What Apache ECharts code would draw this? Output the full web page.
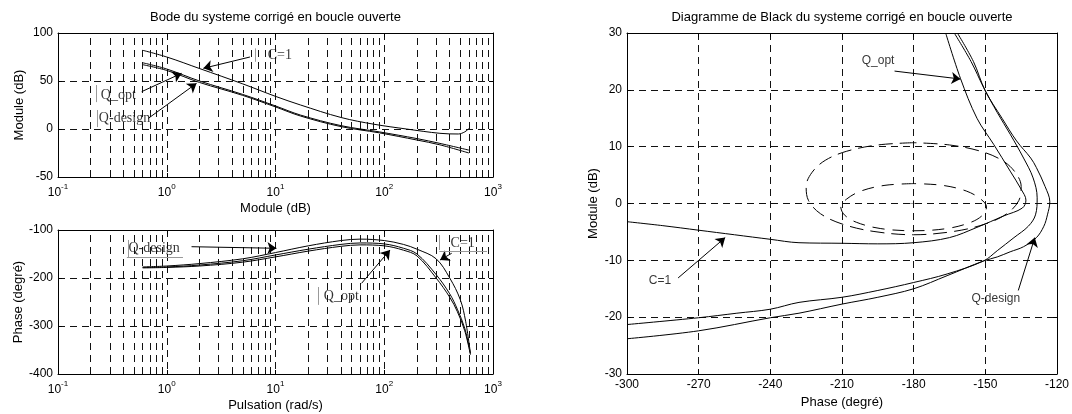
<!DOCTYPE html>
<html><head><meta charset="utf-8">
<script src="https://cdn.jsdelivr.net/npm/echarts@6/dist/echarts.min.js"></script>
<style>html,body{margin:0;padding:0;background:#fff}#c{width:1072px;height:414px}</style>
</head><body><div id="c"></div><script>
// ---------- DATA ----------
// Bode magnitude [rad/s, dB]
const magC1      = [[0.6,82],[1,75],[2,63],[5,47],[10,34],[17,25],[40,12],[80,5],[160,0],[325,-4.5],[480,-5.2],[550,-3],[600,0.5]];
const magQopt    = [[0.6,69],[1,62.5],[2,50],[5,36],[10,24],[17,14.5],[40,3.5],[90,-3],[200,-10],[325,-15],[600,-22]];
const magQdesign = [[0.6,67],[1,61],[2,48.5],[5,35],[10,23],[17,13.5],[40,2.5],[90,-4],[200,-11.5],[325,-16.5],[600,-25]];
// Bode phase [rad/s, deg]
const phaseC1      = [[0.6,-177],[1,-175],[2,-170],[5,-160],[10,-147],[20,-133],[40,-122],[60,-119],[100,-122],[150,-130],[200,-140],[300,-160],[400,-200],[500,-245],[560,-290],[620,-357]];
const phaseQopt    = [[0.6,-178],[1,-177],[2,-173],[5,-164],[10,-152],[20,-140],[40,-130],[60,-127],[100,-129],[150,-138],[200,-150],[300,-193],[400,-233],[470,-265],[550,-305],[620,-357]];
const phaseQdesign = [[0.6,-179],[1,-178],[2,-175],[5,-167],[10,-156],[20,-144],[40,-134],[60,-131],[100,-133],[150,-142],[200,-154],[300,-200],[400,-240],[470,-270],[550,-310],[620,-360]];
// Black diagram [phase deg, dB]
const blackC1 = [[-166.6,30],[-160.4,22],[-153.5,15],[-146.5,10.4],[-139.6,5.7],[-135,2.5],[-133,0.6],[-134.5,-0.8],[-142.4,-2.2],[-153.5,-4.2],[-165,-6],[-180,-6.9],[-195,-7.1],[-210,-7],[-228,-6.9],[-240,-6.3],[-255,-5.5],[-270,-4.7],[-285,-3.9],[-300,-3.2]];
const blackQopt = [[-163,30],[-156,25],[-150.7,20.4],[-145,16],[-139.6,12.2],[-134,8],[-130,4.5],[-128.3,1],[-129,-2],[-132,-4],[-138,-6],[-145,-8.3],[-150.7,-10.1],[-166,-12.4],[-180,-13.9],[-195,-15.3],[-210,-16.5],[-228,-17.4],[-240,-18.6],[-254,-19.3],[-270,-20.1],[-300,-21.3]];
const blackQdesign = [[-161.7,30],[-155,25],[-150,19.8],[-143,15],[-136.9,11],[-131,8],[-128.6,6.3],[-125,3],[-123,0.3],[-124,-2],[-125.5,-4],[-128.6,-6],[-134,-7.6],[-139.6,-8.5],[-145,-9.4],[-150.7,-10.1],[-166,-12.7],[-180,-15],[-195,-16.5],[-210,-17.7],[-228,-19.3],[-240,-20.1],[-270,-22.4],[-300,-23.8]];
// Nichols contours around the critical point
const contourOuter = [[-180,10.7],[-195,10.3],[-208,9.2],[-217,7.6],[-222.5,5.5],[-225,3],[-224,0.5],[-219,-1.8],[-210,-3.6],[-197,-4.9],[-180,-5.5],[-163,-4.9],[-150,-3.6],[-141,-1.8],[-136,0.5],[-135,3],[-137.5,5.5],[-143,7.6],[-152,9.2],[-165,10.3],[-180,10.7]];
const contourInner = [[-180,3.5],[-192,3.2],[-202,2.2],[-208,0.8],[-210.5,-0.6],[-209,-2],[-204,-3.3],[-194,-4.4],[-180,-4.8],[-166,-4.4],[-156,-3.3],[-151,-2],[-149.5,-0.6],[-152,0.8],[-158,2.2],[-168,3.2],[-180,3.5]];
const criticalPoint = [[-180,0]];
// ticks
const decades = [0.1, 1, 10, 100];
const minorMult = [2,3,4,5,6,7,8,9];
// annotations
const magLabels   = [{t:'C=1',x:8.4,y:77},{t:'Q_opt',x:0.245,y:35},{t:'Q-design',x:0.235,y:11.5}];
const magArrows   = [[5.82,75,2.17,63.2],[0.588,38.9,1.37,58],[0.677,11.1,1.88,47.6]];
const magBars     = [[6.5,84,6.5,70],[0.224,45.8,0.224,28],[0.229,19.8,0.229,2]];
const phLabels    = [{t:'Q-design',x:0.44,y:-137.5},{t:'Q_opt',x:27.5,y:-239},{t:'C=1',x:403,y:-127.7}];
const phArrows    = [[1.69,-134.8,10.2,-138.1],[61.9,-211,113,-141.7],[417,-148.5,326,-162.5]];
const phBars      = [[0.44,-120.8,0.44,-156.3],[0.43,-156.9,1.41,-156.9],[24.6,-218.8,24.6,-256],[321,-110.4,321,-141.7],[321,-145.2,881,-145.2]];
const blkLabels   = [{t:'Q_opt',x:-194.9,y:25.1},{t:'C=1',x:-286.2,y:-13.6},{t:'Q-design',x:-145.6,y:-16.8}];
const blkArrows   = [[-188,23.3,-160.4,21.9],[-278.6,-13.1,-258.9,-6.0],[-136.2,-15.3,-129.3,-6.0]];

// ---------- CHART ----------
const minorFreqs = [];
decades.forEach(d => minorMult.forEach(m => minorFreqs.push(+(d*m).toPrecision(3))));

const FONT = 'Liberation Sans';
const BLACK = '#000';
const DASH = [7,5];
const axLine = {show:true, onZero:false, lineStyle:{color:BLACK, width:1}};
const axTick = {show:true, inside:true, length:4, lineStyle:{color:BLACK, width:1}};
const lbl = {color:BLACK, fontFamily:FONT, fontSize:12};
const nameStyle = {color:BLACK, fontFamily:FONT, fontSize:13};
const split = {show:true, lineStyle:{color:'#111', width:1, type:DASH}};

const logLabel = {
  show:true, margin:6,
  formatter: v => '{b|10}{s|' + Math.round(Math.log10(v)) + '}',
  rich: {b:{fontSize:12, fontFamily:FONT, color:BLACK, lineHeight:16, verticalAlign:'bottom'},
         s:{fontSize:8, fontFamily:FONT, color:BLACK, lineHeight:9, verticalAlign:'top'}}
};

function logAxis(gi, pos, withLabel, name) {
  return {type:'log', logBase:10, min:0.1, max:1000, gridIndex:gi, position:pos,
    axisLine:axLine, axisTick:axTick, axisLabel: withLabel ? logLabel : {show:false},
    splitLine: withLabel ? split : {show:false},
    name: name || '', nameLocation:'middle', nameGap:25, nameTextStyle:nameStyle};
}
function valAxis(gi, pos, min, max, interval, withLabel, name, gap, isY) {
  return {type:'value', gridIndex:gi, position:pos, min, max, interval,
    axisLine:axLine, axisTick:axTick,
    axisLabel: withLabel ? Object.assign({show:true, margin:5}, lbl) : {show:false},
    splitLine: withLabel ? split : {show:false},
    name: name || '', nameLocation:'middle', nameGap:gap || 26, nameTextStyle:nameStyle,
    nameRotate: isY ? 90 : 0};
}

function curve(data, xi, yi, smooth) {
  return {type:'line', data, xAxisIndex:xi, yAxisIndex:yi, showSymbol:false, symbol:'none',
    smooth: smooth === undefined ? 0.35 : smooth, silent:true, animation:false,
    lineStyle:{color:BLACK, width:1}};
}
function minorGrid(xi, yi) {
  return {type:'line', data:[], xAxisIndex:xi, yAxisIndex:yi, silent:true,
    markLine:{silent:true, symbol:['none','none'], label:{show:false}, animation:false,
      lineStyle:{color:'#111', width:1, type:DASH}, emphasis:{disabled:true},
      data: minorFreqs.map(v => ({xAxis:v}))}};
}
function arrows(list, xi, yi) {
  return {type:'line', data:[], xAxisIndex:xi, yAxisIndex:yi, silent:true,
    markLine:{silent:true, symbol:['none','arrow'], symbolSize:9, label:{show:false}, animation:false,
      lineStyle:{color:BLACK, width:1, type:'solid'}, itemStyle:{color:BLACK}, emphasis:{disabled:true},
      data: list.map(a => [{coord:[a[0],a[1]]},{coord:[a[2],a[3]]}])}};
}
function bars(list, xi, yi) {
  return {type:'line', data:[], xAxisIndex:xi, yAxisIndex:yi, silent:true,
    markLine:{silent:true, symbol:['none','none'], label:{show:false}, animation:false,
      lineStyle:{color:'#999', width:1, type:'solid'}, emphasis:{disabled:true},
      data: list.map(a => [{coord:[a[0],a[1]]},{coord:[a[2],a[3]]}])}};
}
function labels(list, xi, yi, font, size, pos) {
  return {type:'scatter', xAxisIndex:xi, yAxisIndex:yi, silent:true, symbol:'circle', symbolSize:1,
    itemStyle:{color:'rgba(0,0,0,0)'}, animation:false,
    label:{show:true, position:pos, distance:0, color:BLACK, fontFamily:font, fontSize:size},
    data: list.map(l => ({value:[l.x,l.y], label:{formatter:l.t}}))};
}

const option = {
  animation:false,
  graphic:[
    {type:'text', x:275.5, y:17, style:{text:'Bode du systeme corrigé en boucle ouverte', fill:BLACK, font:'13px "Liberation Sans"', align:'center', verticalAlign:'middle'}},
    {type:'text', x:842, y:17, style:{text:'Diagramme de Black du systeme corrigé en boucle ouverte', fill:BLACK, font:'13px "Liberation Sans"', align:'center', verticalAlign:'middle'}}
  ],
  grid:[
    {left:58, top:33, width:435, height:144},
    {left:58, top:230, width:435, height:144},
    {left:627, top:33, width:434, height:341}
  ],
  xAxis:[
    logAxis(0,'bottom',true,'Module (dB)'),
    logAxis(0,'top',false),
    logAxis(1,'bottom',true,'Pulsation (rad/s)'),
    logAxis(1,'top',false),
    valAxis(2,'bottom',-300,-120,30,true,'Phase (degré)',21,false),
    valAxis(2,'top',-300,-120,30,false)
  ],
  yAxis:[
    valAxis(0,'left',-50,100,50,true,'Module (dB)',32,true),
    valAxis(0,'right',-50,100,50,false),
    valAxis(1,'left',-400,-100,100,true,'Phase (degré)',32,true),
    valAxis(1,'right',-400,-100,100,false),
    valAxis(2,'left',-30,30,10,true,'Module (dB)',27,true),
    valAxis(2,'right',-30,30,10,false)
  ],
  series:[
    minorGrid(0,0), minorGrid(2,2),
    curve(magC1,0,0), curve(magQopt,0,0), curve(magQdesign,0,0),
    curve(phaseC1,2,2), curve(phaseQopt,2,2), curve(phaseQdesign,2,2),
    curve(blackC1,4,4), curve(blackQopt,4,4), curve(blackQdesign,4,4),
    Object.assign(curve(contourOuter,4,4), {lineStyle:{color:BLACK,width:1,type:[14,7]}}),
    Object.assign(curve(contourInner,4,4), {lineStyle:{color:BLACK,width:1,type:[12,8]}}),
    {type:'scatter', data:criticalPoint, xAxisIndex:4, yAxisIndex:4, silent:true, symbolSize:7,
     symbol:'path://M0,4.5H10V5.5H0Z M4.5,0H5.5V10H4.5Z', itemStyle:{color:BLACK}},
    arrows(magArrows,0,0), bars(magBars,0,0), labels(magLabels,0,0,'Liberation Serif',14,'right'),
    arrows(phArrows,2,2), bars(phBars,2,2), labels(phLabels,2,2,'Liberation Serif',14,'right'),
    arrows(blkArrows,4,4), labels(blkLabels,4,4,FONT,12,'inside')
  ]
};
const chart = echarts.init(document.getElementById('c'), null, {renderer:'canvas'});
chart.setOption(option);
</script></body></html>
